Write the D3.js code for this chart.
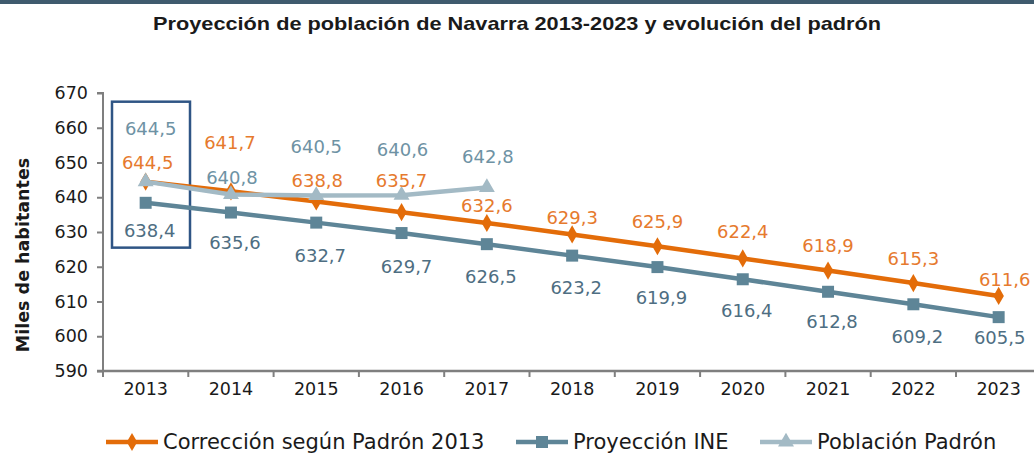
<!DOCTYPE html>
<html>
<head>
<meta charset="utf-8">
<script src="https://cdn.jsdelivr.net/npm/d3@7"></script>
<style>
  html, body { margin: 0; padding: 0; background: #fff; }
  svg { display: block; }
</style>
</head>
<body>
<svg id="chart" width="1034" height="454"></svg>
<script>
// Years on the category axis
const years = ["2013","2014","2015","2016","2017","2018","2019","2020","2021","2022","2023"];
// Population, thousands of inhabitants
const correccion = [644.5, 641.7, 638.8, 635.7, 632.6, 629.3, 625.9, 622.4, 618.9, 615.3, 611.6];
const proyeccionINE = [638.4, 635.6, 632.7, 629.7, 626.5, 623.2, 619.9, 616.4, 612.8, 609.2, 605.5];
const padron = [644.5, 640.8, 640.5, 640.6, 642.8];
const yTicks = [590, 600, 610, 620, 630, 640, 650, 660, 670];
const seriesNames = ["Corrección según Padrón 2013", "Proyección INE", "Población Padrón"];

// Label placement (pixel nudges relative to each point)
const corrLabelDy = [-19, -49, -21, -31, -17, -17, -25, -27, -25, -24, -16];
const corrLabelDx = [2, -1, 1, 0, 0, 0, 0, 0, 0, 0, 6];
const ineLabelDy = [28, 30, 33, 34, 33, 32, 31, 31, 30, 32, 21];
const ineLabelDx = [4, 4, 4, 5, 4, 4, 4, 4, 4, 4, 1];
const padLabelDy = [-53, -17, -49, -45, -31];
const padLabelDx = [5, 1, 0, 1, 1];

const colors = {
  corr: "#E36C09",
  corrText: "#E67A2E",
  ine: "#5E8597",
  ineText: "#4E6E82",
  pad: "#A3BAC5",
  padText: "#6E92A4",
  box: "#2F5585",
  axis: "#7F7F7F",
  bar: "#3F5B6E"
};
const FONT = "'DejaVu Sans', 'Noto Sans', sans-serif";
const TITLE_FONT = "'Liberation Sans', Arial, sans-serif";

const svg = d3.select("#chart");

// Top rule
svg.append("rect").attr("x", 0).attr("y", 0).attr("width", 1034).attr("height", 4).attr("fill", colors.bar);

// Title
svg.append("text")
  .attr("x", 517).attr("y", 30)
  .attr("text-anchor", "middle")
  .attr("font-family", TITLE_FONT).attr("font-weight", "bold").attr("font-size", 19)
  .attr("textLength", 728).attr("lengthAdjust", "spacingAndGlyphs")
  .attr("fill", "#1a1a1a")
  .text("Proyección de población de Navarra 2013-2023 y evolución del padrón");

const x0 = 103, bandW = 85.3;
const x = d3.scaleBand().domain(years).range([x0, x0 + bandW * years.length]).padding(0);
const cx = d => x(d) + x.bandwidth() / 2;
const y = d3.scaleLinear().domain([590, 670]).range([371, 93]);

// Y axis
const yAxis = svg.append("g").attr("transform", `translate(${x0},0)`)
  .call(d3.axisLeft(y).tickValues(yTicks).tickSize(6).tickPadding(9).tickFormat(d3.format("d")));
yAxis.select(".domain").attr("stroke", colors.axis).attr("stroke-width", 2).attr("d", `M-6,${y(670)}H0V${y(590)}`);
yAxis.selectAll(".tick line").attr("stroke", colors.axis).attr("stroke-width", 2);
yAxis.selectAll(".tick text").attr("font-family", FONT).attr("font-size", 17.5).attr("fill", "#1a1a1a");

// X axis
const xAxis = svg.append("g").attr("transform", `translate(0,${y(590)})`)
  .call(d3.axisBottom(x).tickSize(0).tickPadding(12));
xAxis.select(".domain").attr("stroke", colors.axis).attr("stroke-width", 2.5).attr("d", `M${x0 - 6},0H${x0 + bandW * years.length}`);
xAxis.selectAll(".tick text").attr("font-family", FONT).attr("font-size", 17.5).attr("fill", "#1a1a1a");
// category boundary ticks
svg.append("g").selectAll("line").data(years)
  .join("line")
  .attr("x1", d => x(d)).attr("x2", d => x(d))
  .attr("y1", y(590)).attr("y2", y(590) + 6)
  .attr("stroke", colors.axis).attr("stroke-width", 2);

// Y axis title
svg.append("text")
  .attr("transform", `translate(29,${(y(590) + y(670)) / 2 + 23}) rotate(-90)`)
  .attr("text-anchor", "middle")
  .attr("font-family", FONT).attr("font-weight", "bold").attr("font-size", 17.5)
  .attr("fill", "#1a1a1a")
  .text("Miles de habitantes");

// Highlight box around 2013
svg.append("rect")
  .attr("x", x("2013") + 9).attr("y", y(667.5))
  .attr("width", 78).attr("height", y(625.5) - y(667.5))
  .attr("fill", "none").attr("stroke", colors.box).attr("stroke-width", 2.5);

const line = d3.line().x((d, i) => cx(years[i])).y(d => y(d));

function drawSeries(values, color, width, marker) {
  const g = svg.append("g");
  g.append("path").datum(values).attr("d", line)
    .attr("fill", "none").attr("stroke", color).attr("stroke-width", width).attr("stroke-linejoin", "round");
  g.selectAll("path.m").data(values).join("path").attr("class", "m")
    .attr("transform", (d, i) => `translate(${cx(years[i])},${y(d)})`)
    .attr("d", marker).attr("fill", color);
}

const diamond = d3.symbol().type(d3.symbolDiamond).size(95)();
const square = "M-6,-6H6V6H-6Z";
const triangle = d3.symbol().type(d3.symbolTriangle).size(110)();

drawSeries(correccion, colors.corr, 4.5, diamond);
drawSeries(proyeccionINE, colors.ine, 4.5, square);
drawSeries(padron, colors.pad, 4.5, triangle);

const fmt = v => d3.format(".1f")(v).replace(".", ",");

function labels(values, dx, dy, color) {
  svg.append("g").selectAll("text").data(values).join("text")
    .attr("x", (d, i) => cx(years[i]) + dx[i])
    .attr("y", (d, i) => y(d) + dy[i])
    .attr("dy", "0.35em")
    .attr("text-anchor", "middle")
    .attr("font-family", FONT).attr("font-size", 18)
    .attr("fill", color)
    .text(fmt);
}
labels(correccion, corrLabelDx, corrLabelDy, colors.corrText);
labels(proyeccionINE, ineLabelDx, ineLabelDy, colors.ineText);
labels(padron, padLabelDx, padLabelDy, colors.padText);

// Legend
const legendX = [106, 516, 760];
const legendColors = [colors.corr, colors.ine, colors.pad];
const legendMarkers = [diamond, square, triangle];
const lg = svg.append("g");
seriesNames.forEach((name, i) => {
  const ly = 442;
  lg.append("line").attr("x1", legendX[i]).attr("x2", legendX[i] + 52).attr("y1", ly).attr("y2", ly)
    .attr("stroke", legendColors[i]).attr("stroke-width", 4.5);
  lg.append("path").attr("transform", `translate(${legendX[i] + 26},${ly})`)
    .attr("d", legendMarkers[i]).attr("fill", legendColors[i]);
  lg.append("text").attr("x", legendX[i] + 57).attr("y", 449)
    .attr("font-family", FONT).attr("font-size", 21).attr("fill", "#1a1a1a")
    .text(name);
});
</script>
</body>
</html>
